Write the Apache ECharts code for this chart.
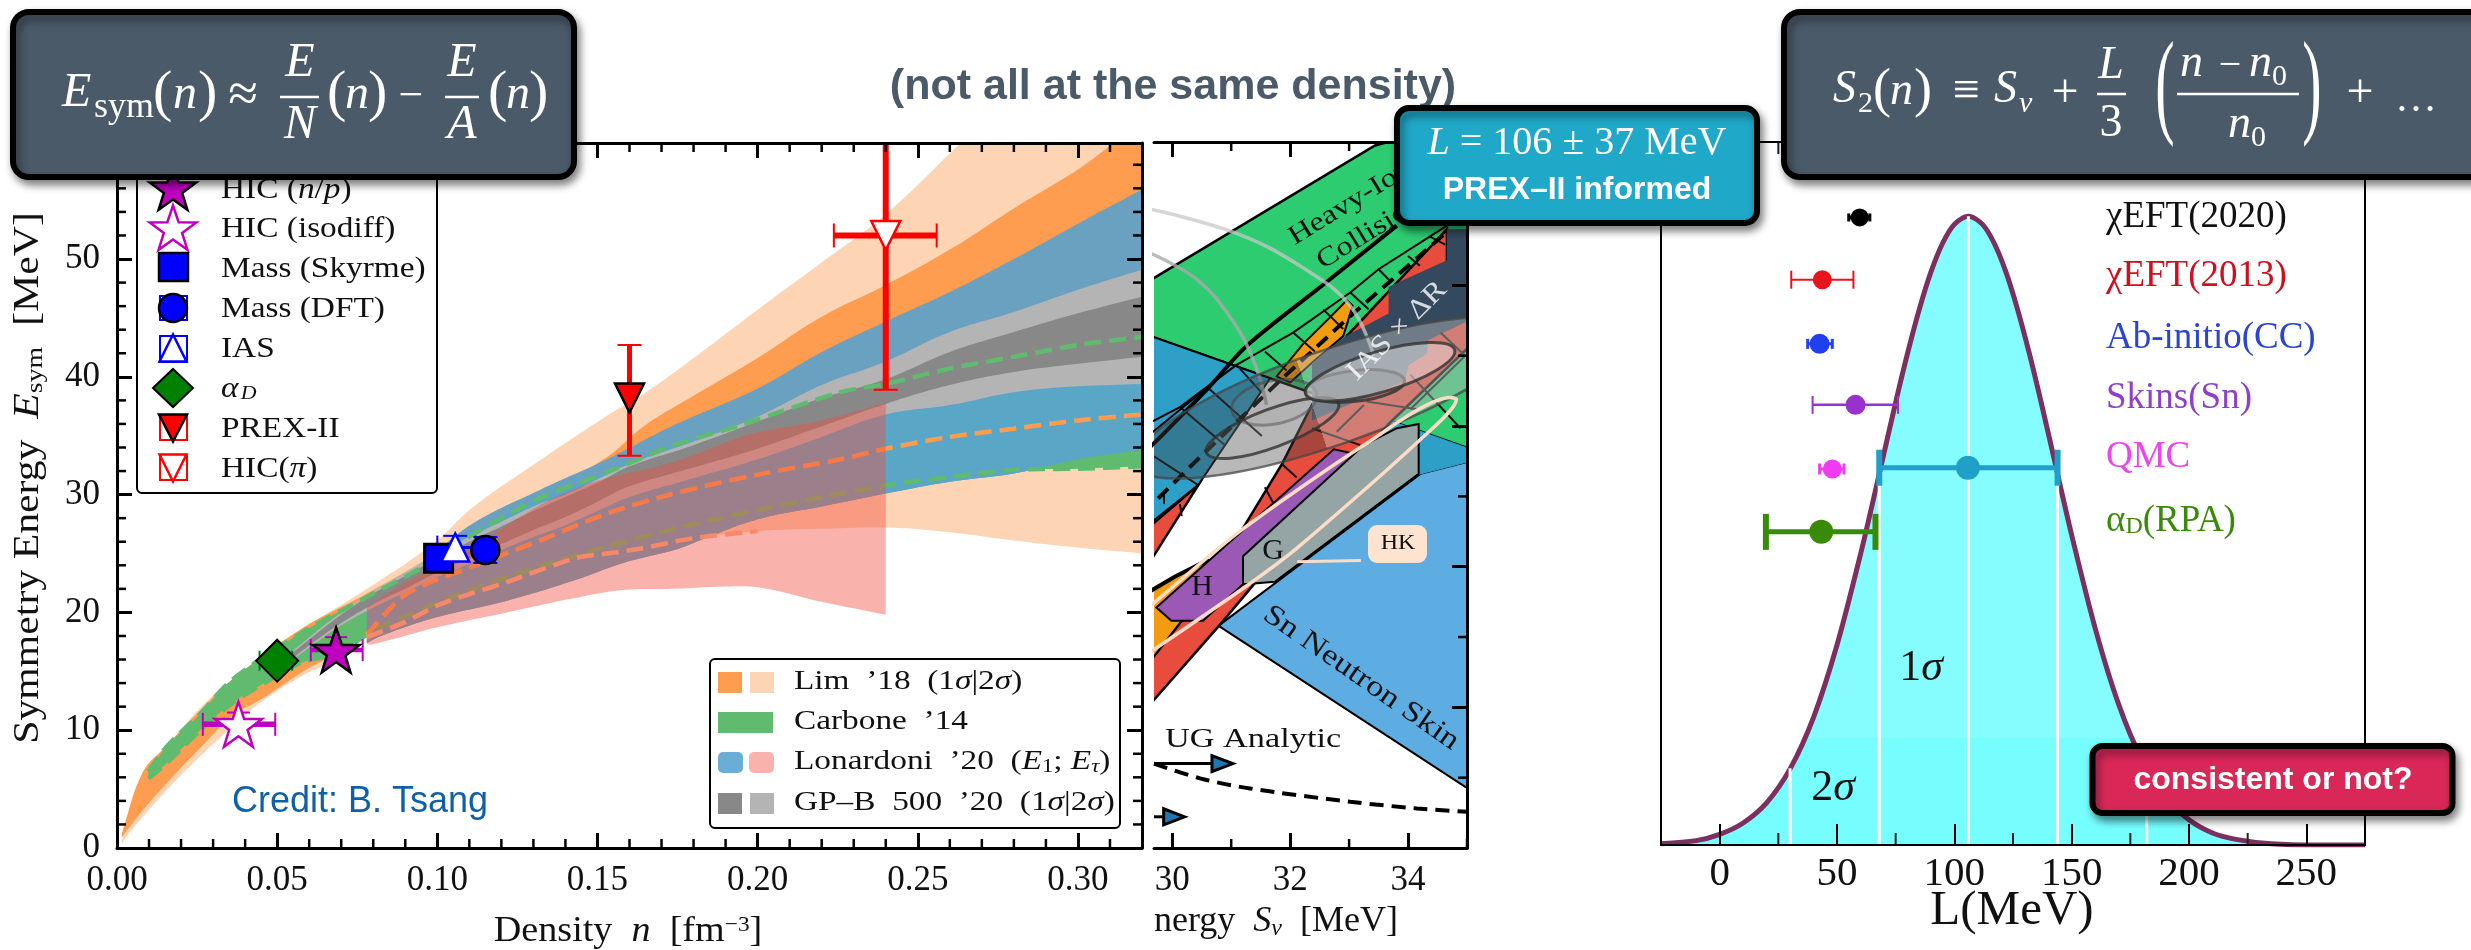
<!DOCTYPE html>
<html><head><meta charset="utf-8"><style>html,body{margin:0;background:#fff}#c{width:2471px;height:950px}</style>
<script src="https://cdn.jsdelivr.net/npm/echarts@6/dist/echarts.min.js"></script></head>
<body><div id="c"></div><script>
// ---------- LEFT PANEL: symmetry energy bands ----------
const lim2UpN=[.0015,.003,.008,.0155,.026,.036,.057,.078,.099,.111,.132,.153,.163,.17,.183,.2,.22,.24,.264,.28,.3,.32];
const lim2UpE=[.5,2.6,5.5,8.5,11.9,14.3,18.4,22,25.9,28.9,32.9,36.7,38.3,39.6,42.2,45.7,49.7,53.8,60,64,69,74];
const lim2LowN=[.0015,.003,.008,.0155,.026,.036,.046,.057,.068,.078,.09,.101,.122,.143,.153,.163,.18,.2,.22,.24,.26,.28,.3,.32];
const lim2LowE=[.3,1,2.6,4.9,7.8,10.3,12.6,14.5,16,17.9,19.2,20.7,22.6,24.6,25,25.4,26.3,26.9,27.1,27.2,26.8,26.1,25.5,25];
const lim1UpN=[.0015,.008,.0155,.026,.036,.057,.078,.099,.111,.132,.153,.163,.17,.18,.2,.22,.24,.26,.28,.3,.311,.32];
const lim1UpE=[1.2,6.4,8.7,11.7,14.3,18.5,21.6,24.9,27.2,29.9,33.2,35.5,36.8,38.4,41.6,45.1,47.8,50.8,54.3,57.6,59.8,61.5];
const lim1LowN=[.0015,.008,.0155,.026,.036,.046,.057,.078,.0905,.111,.132,.153,.174,.2,.2259,.24,.26,.28,.3,.32];
const lim1LowE=[.9,3.2,5.5,8.5,11.2,12.8,14.8,18.1,21.6,23.9,26.1,28.4,30.1,31.7,33,33.9,34.9,35.6,36.3,36.8];
const carbUpN=[.0098,.0155,.026,.036,.0572,.078,.0957,.111,.132,.153,.174,.1947,.2259,.24,.26,.28,.3,.32];
const carbUpE=[6.5,8.6,11.4,14.3,18.2,21.3,23.9,26.6,29.7,31.9,34.2,35.9,38.7,39.4,40.7,41.7,42.7,43.4];
const carbLowN=[.0098,.0155,.026,.036,.046,.0572,.068,.078,.0824,.1113,.132,.153,.1739,.1947,.2259,.24,.26,.28,.3,.32];
const carbLowE=[5.9,7.2,10,12.3,14,15.7,16.5,18.1,18.8,22,23.9,25.6,27.1,28.4,30.1,30.8,31.5,32.1,32.2,32.4];
const lonE1UpN=[.078,.0884,.0989,.1113,.132,.153,.174,.2,.22,.24,.26,.28,.3,.32];
const lonE1UpE=[20.5,22.8,25,27.6,30.4,33,35.9,39,42.1,44.7,47.2,50,53,55.9];
const lonE1LowN=[.078,.0824,.1,.1218,.1426,.158,.174,.18,.2,.22,.24,.26,.28,.3,.32];
const lonE1LowE=[17.4,18,19.6,21,22.7,24.2,25.3,25.9,27.9,29,30.1,31.1,31.8,33,33.8];
const lonE1MidN=[.078,.0957,.111,.132,.153,.174,.1947,.2259,.24,.26,.28,.3,.32];
const lonE1MidE=[20.5,23.3,26.6,29.7,31.9,34.2,35.9,38.7,39.4,40.7,41.7,42.7,43.4];
const lonTauUpN=[.078,.09,.111,.132,.142,.153,.174,.1947,.2,.22,.24];
const lonTauUpE=[20.5,22.5,25.6,29.1,30.4,31.4,32.8,34.9,35.3,36.3,37.8];
const lonTauLowN=[.078,.08,.101,.1218,.1426,.158,.174,.19,.201,.22,.24];
const lonTauLowE=[17.3,17.3,18.8,20,21.2,21.9,22,22.2,22.1,20.9,19.8];
const gpN=[.05,.06,.07,.08,.09,.1,.11,.12,.13,.14,.15,.16,.18,.2,.22,.24,.26,.28,.3,.32];
const gp2Up=[15.6,17.9,20,21.8,23.4,25,26.4,27.7,29,30,31.3,32.6,34.5,36.6,39.3,41.3,43.8,45.5,47.4,49.1];
const gp1Up=[15.5,17.7,19.8,21.6,23.1,24.6,26,27.3,28.6,29.8,31,32.4,34.2,36.2,38.2,39.8,42.1,43.8,45.4,46.8];
const gp1Low=[15.1,17.2,19.1,20.7,22,23.4,24.6,25.8,27,28.1,29.4,30.7,32.3,33.9,35.8,37.7,39.3,40.4,41.1,41.7];
const gp2Low=[15,17,18.9,20.4,21.7,23,24.1,25.3,26.4,27.4,28.6,29.8,31.4,33,34.9,36.8,37.6,38.7,39.2,39.4];
// experimental points
const expNames=['HIC (n/p)','HIC (isodiff)','Mass (Skyrme)','IAS','Mass (DFT)','αD','PREX-II','HIC(π)'];
const expN=[.0684,.0379,.1004,.1056,.115,.05,.16,.24];
const expE=[16.8,10.5,24.6,25.5,25.3,15.9,38.2,52];
const expNLo=[.0605,.0268,.0985,.1,.112,.0445,.16,.2238];
const expNHi=[.0767,.0494,.1022,.112,.118,.0547,.16,.2559];
const expELo=[15.7,9.5,24.6,24.6,24.2,15,33.3,38.9];
const expEHi=[17.9,11.5,25.8,26.5,26.4,16.8,42.7,65];
// axis ticks
const leftXMajor=[0,.05,.1,.15,.2,.25,.3];
const leftXMinor=[.01,.02,.03,.04,.06,.07,.08,.09,.11,.12,.13,.14,.16,.17,.18,.19,.21,.22,.23,.24,.26,.27,.28,.29,.31];
const leftYMajor=[0,10,20,30,40,50];
const leftYMinor=[2,4,6,8,12,14,16,18,22,24,26,28,32,34,36,38,42,44,46,48,52,54,56,58];
// ---------- MIDDLE PANEL: Sv-L constraints (Sv, L pairs) ----------
const midXMajor=[30,32,34];
const midXMinor=[31,33,35];
const midYMajor=[0,20,40,60,80,100];
const midYMinor=[10,30,50,70,90];
const skinPoly=[[30.78,31.63],[34.97,8.7],[35.1,8.2],[35.1,55.1],[34.21,53.2],[30.81,31.77]];
const greenPoly=[[29.6,80.6],[33.44,99.9],[33.7,100.5],[35.1,100.5],[35.1,56.6],[29.6,72.9]];
const tealLeftPoly=[[29.6,72.9],[31.66,66.8],[30.44,51.6],[29.6,46]];
const tealRightPoly=[[33.25,62.1],[35.1,56.6],[35.1,55.1],[34.21,53.2],[32.8,50]];
const redPoly=[[29.6,26.3],[30.13,32],[31.2,45.5],[31.86,54.6],[32.96,72.8],[34.66,88],[34.66,83.6],[35.1,75.5],[35.1,71.8],[33.67,60.3],[30.81,31.77],[29.6,20.2]];
const redWedgePoly=[[30.44,51.6],[29.6,45.6],[29.6,40.4]];
const orangeLowPoly=[[29.6,36.4],[30.05,38.6],[30.61,41],[30.9,37],[30.13,32],[29.6,26.3]];
const orangeSliverPoly=[[31.77,67.06],[32.22,71.7],[32.68,75.5],[32.96,77.9],[33.06,77.1],[32.9,72.8],[32.37,69],[32,66.2]];
const navyPoly=[[32.37,68.95],[32.93,72.75],[33.67,76],[33.67,79.8],[34.66,83.6],[34.66,88],[35.1,88],[35.1,75.3],[34.34,72.2],[34.32,70.3],[34.01,68.7],[33.95,66.5],[32.37,60.8]];
const purplePoly=[[29.73,34.2],[32.74,56.7],[33.02,56.2],[33.25,53.2],[32.11,42.4],[31.2,37.5],[30.52,32.3],[29.985,32.3]];
const gPoly=[[31.2,41.5],[31.2,37.5],[31.74,37.85],[34.18,53.2],[34.18,60.3],[33.81,59.7],[33.25,57.3]];
const thickCurve=[[29.6,56.8],[30.61,65.4],[31.26,71.4],[32.56,80.1],[33.81,88.5]];
const thickLow=[[29.6,36.4],[30.05,38.6],[30.61,41]];
const thinB=[[29.6,60.4],[30.13,62.7],[31.09,68.7],[32.05,73.3],[33.02,79],[33.5,82.3],[34.66,88.5]];
const thinC=[[29.6,58.7],[30.58,65.4]];
const dashedD=[[29.76,49.7],[30.41,55.1],[31.83,66.5],[32.96,75.2],[34.63,87.4]];
const crossBars=[[30.13,62.7,30.89,57.3],[30.61,65.4,31.52,58.6],[31.09,68.7,31.5,64.9],[31.57,70.6,31.94,67.9],[32.05,73.3,32.42,70.6],[32.56,76.6,32.9,73.8],[33.02,79,33.33,76.6],[33.5,82.3,33.7,80.6],[34,84.2,34.2,82.8],[34.38,86.9,34.63,85.8],[29.69,55.7,30.44,51.6],[29.86,50.9,29.86,48.9],[30.13,48.9,30.16,47.2],[31.86,54.6,32.11,52.7],[31.57,51.3,31.71,49.1],[32.37,59.7,33.19,57.3],[34.97,70,34.04,62.4],[34.55,73.3,34.97,70],[34.04,67.3,34.89,59.7],[32.79,59.2,33.25,63],[33.3,63.5,34.15,62.4]];
// ellipses: end points of major axis + minor/major ratio
const ellBig=[29.38,54.46,35.98,73.57,.23];
const ellA=[31.01,62.17,32.45,64.61,.5];
const ellB=[30.58,56.2,32.82,63.25,.27];
const ellC=[32.26,64.9,33.94,66.5,.31];
const ellD=[32.26,64.6,34.79,70.85,.26];
const hkRing=[[29.6,34.2],[31.15,45.07],[33.25,57.28],[34.72,64.07],[34.82,63.8],[34.21,58.1],[32.11,42.6],[31.2,36.9],[29.6,27.7]];
const hkLeader=[[33.2,40.9],[32.12,40.7]];
const arcOuter=[[29.6,90.9],[31.09,87.4],[32.22,82.5],[33.02,77.1],[33.42,70]];
const arcInner=[[29.6,84.7],[30.41,80.9],[30.98,75.5],[31.37,69.5],[31.6,63]];
const ugCurve=[[29.69,12],[30.47,9.9],[31.32,8.46],[33.02,6.57],[34.15,5.63],[35,5.15]];
const ugArrows=[[29.69,31.03,12],[29.69,30.21,4.44]];
// ---------- RIGHT PANEL: L distribution ----------
const distL=[-25,-10,0,10,20,30,40,50,60,68,75,80,85,90,95,100,106,112,117,122,127,132,137,144,150,160,170,180,190,200,210,220,235,255,275];
const distV=[.002,.007,.017,.035,.067,.121,.203,.318,.462,.59,.704,.781,.851,.911,.957,.987,1,.987,.957,.911,.851,.781,.704,.59,.493,.345,.224,.135,.076,.04,.019,.009,.002,0,0];
const sigmaLines=[[30,.122],[68,.59],[106,1],[144,.59],[182,.122]];
const rightMajor=[0,50,100,150,200,250];
const rightMinor=[25,75,125,175,225];
const lNames=['χEFT(2020)','χEFT(2013)','Ab-initio(CC)','Skins(Sn)','QMC','PREX-II','αD(RPA)'];
const lCenter=[59.7,43.75,42.6,57.9,48,105.8,43.3];
const lLow=[55,30.5,37.5,39.6,42.6,68,19.7];
const lHigh=[64,57,48,76,53,144,66.4];
const lRow=[.998,.899,.797,.70,.598,.60,.498];
const lColors=['#000000','#e8131b','#2040ef','#9932cc','#f03cf0','#20a0c8','#3a8a0a'];

const SERIF='Liberation Serif', SANS='Liberation Sans';
const Z=(s,z)=>{s.z=z;return s;};
const zipP=(a,b)=>a.map((v,i)=>[v,b[i]]);
const poly=(pts,fill,xi,yi,extra,smooth)=>({type:'custom',xAxisIndex:xi,yAxisIndex:yi,clip:true,silent:true,data:[pts[0]],
  renderItem:(p,api)=>({type:'polygon',shape:{points:pts.map(q=>api.coord(q)),smooth:smooth||0},style:Object.assign({fill,stroke:null,lineWidth:0},extra||{})})});
const band=(uN,uE,lN,lE,fill)=>{const u=zipP(uN,uE),l=zipP(lN,lE).reverse();
  return poly([u[0],...u,u[u.length-1],l[0],...l,l[l.length-1]],fill,0,0,null,.4);};
const mid=(pts,fill,stroke,lw)=>poly(pts,fill,2,2,{stroke:stroke||null,lineWidth:lw||0});
const pline=(pts,color,w,dash,xi=2,yi=2,sm=false)=>({type:'line',z:3,xAxisIndex:xi,yAxisIndex:yi,data:pts,showSymbol:false,silent:true,clip:true,animation:false,smooth:sm,lineStyle:{color,width:w,type:dash||'solid',cap:'butt'}});
const ell=(e,fill,stroke,lw)=>({type:'custom',z:4,xAxisIndex:2,yAxisIndex:2,clip:true,silent:true,data:[[e[0],e[1]]],
  renderItem:(p,api)=>{const a=api.coord([e[0],e[1]]),b=api.coord([e[2],e[3]]);const dx=b[0]-a[0],dy=b[1]-a[1],r=Math.hypot(dx,dy)/2;
   return {type:'ellipse',x:(a[0]+b[0])/2,y:(a[1]+b[1])/2,rotation:Math.atan2(-dy,dx),shape:{cx:0,cy:0,rx:r,ry:r*e[4]},style:{fill,stroke,lineWidth:lw}};}});
const ticks=(xi,yi,xs,ys,len,w,color,sides)=>({type:'custom',xAxisIndex:xi,yAxisIndex:yi,clip:false,silent:true,z:6,data:[[xs[0]||0,ys[0]||0]],
  renderItem:(p,api)=>{const cs=p.coordSys,ch=[];const st={stroke:color,lineWidth:w};
   xs.forEach(v=>{const x=api.coord([v,ys.length?ys[0]:0])[0];
     if(sides.b)ch.push({type:'line',shape:{x1:x,y1:cs.y+cs.height,x2:x,y2:cs.y+cs.height-len},style:st});
     if(sides.t)ch.push({type:'line',shape:{x1:x,y1:cs.y,x2:x,y2:cs.y+len},style:st});});
   ys.forEach(v=>{const y=api.coord([xs.length?xs[0]:0,v])[1];
     if(sides.l)ch.push({type:'line',shape:{x1:cs.x,y1:y,x2:cs.x+len,y2:y},style:st});
     if(sides.r)ch.push({type:'line',shape:{x1:cs.x+cs.width,y1:y,x2:cs.x+cs.width-len,y2:y},style:st});});
   return {type:'group',children:ch};}});
const expStyle=[[ '#bf00bf',4.5,11,11],['#bf00bf',5.5,11.5,11.5],['#0000ff',2,10,10],['#0000ff',3,12,12],['#0000ff',2,12,12],['#008000',1.5,10,10],['#ff0000',5,0,12],['#ff0000',6,12,12]];
const errLeft={type:'custom',z:5,xAxisIndex:0,yAxisIndex:0,clip:true,silent:true,data:expN.map((n,i)=>[n,expE[i]]),
 renderItem:(p,api)=>{const i=p.dataIndex,[c,w,cx,cy]=expStyle[i];const ch=[];const L=(a,b,lw)=>ch.push({type:'line',shape:{x1:a[0],y1:a[1],x2:b[0],y2:b[1]},style:{stroke:c,lineWidth:lw}});
  const xl=api.coord([expNLo[i],expE[i]]),xh=api.coord([expNHi[i],expE[i]]),yl=api.coord([expN[i],expELo[i]]),yh=api.coord([expN[i],expEHi[i]]);
  if(expNLo[i]!==expNHi[i]){L(xl,xh,w);L([xl[0],xl[1]-cx],[xl[0],xl[1]+cx],2);L([xh[0],xh[1]-cx],[xh[0],xh[1]+cx],2);}
  L(yl,yh,i>=6?w:2);L([yl[0]-cy,yl[1]],[yl[0]+cy,yl[1]],2);L([yh[0]-cy,yh[1]],[yh[0]+cy,yh[1]],2);
  return {type:'group',children:ch};}};
const starPath='path://M50 0L61.8 35.1L98 35.1L68.8 57.2L79.4 91.5L50 70L20.6 91.5L31.2 57.2L2 35.1L38.2 35.1Z';
const expSym=[[starPath,47,'#bf00bf','#000',2.5,0],[starPath,47,'#fff','#bf00bf',2.5,0],['rect',28,'#0000ff','#000',3,0],['triangle',28,'#fff','#0000ff',2.5,0],['circle',28,'#0000ff','#000',2.5,0],['diamond',42,'#008000','#000',2,0],['triangle',29,'#ff0000','#000',2.5,180],['triangle',29,'#fff','#ff0000',2.5,180]];
const expMarkers=expN.map((n,i)=>({type:'scatter',name:expNames[i],z:5,xAxisIndex:0,yAxisIndex:0,silent:true,clip:false,data:[[n,expE[i]]],symbol:expSym[i][0],symbolSize:expSym[i][1],symbolRotate:expSym[i][5],symbolKeepAspect:true,itemStyle:{color:expSym[i][2],borderColor:expSym[i][3],borderWidth:expSym[i][4],opacity:1}}));
const lStyle=[[4,4,9],[2,9,8.5],[3,5,9],[2.5,9,8.5],[3,5.5,9],[5,18,2.5],[5,18,2.5]];
const errRight={type:'custom',xAxisIndex:4,yAxisIndex:4,clip:true,silent:true,z:8,data:lCenter.map((v,i)=>[v,lRow[i]]),
 renderItem:(p,api)=>{const i=p.dataIndex,[w,ch0,cw]=lStyle[i],c=lColors[i];const a=api.coord([lLow[i],lRow[i]]),b=api.coord([lHigh[i],lRow[i]]);const capW=i>=5?6:(i==1||i==3?2:3);
  const mk=x=>({type:'line',shape:{x1:x,y1:a[1]-ch0,x2:x,y2:a[1]+ch0},style:{stroke:c,lineWidth:capW}});
  return {type:'group',children:[{type:'line',shape:{x1:a[0],y1:a[1],x2:b[0],y2:b[1]},style:{stroke:c,lineWidth:w}},mk(a[0]),mk(b[0])]};}};
const lDots={type:'scatter',xAxisIndex:4,yAxisIndex:4,silent:true,z:9,data:lCenter.map((v,i)=>({value:[v,lRow[i]],symbolSize:[18,19,20,20,19,24,24][i],itemStyle:{color:lColors[i],opacity:1}}))};
const sigmaSeries={type:'custom',xAxisIndex:4,yAxisIndex:4,clip:true,silent:true,z:4,data:sigmaLines,
 renderItem:(p,api)=>{const a=api.coord([api.value(0),0]),b=api.coord([api.value(0),api.value(1)]);return {type:'line',shape:{x1:a[0],y1:a[1],x2:b[0],y2:b[1]},style:{stroke:'#fff',lineWidth:3}};}};
const cross={type:'custom',z:3,xAxisIndex:2,yAxisIndex:2,clip:true,silent:true,data:crossBars.map(r=>[r[0],r[1],r[2],r[3]]),
 renderItem:(p,api)=>{const a=api.coord([api.value(0),api.value(1)]),b=api.coord([api.value(2),api.value(3)]);return {type:'line',shape:{x1:a[0],y1:a[1],x2:b[0],y2:b[1]},style:{stroke:'#111',lineWidth:2}};}};
const ugHeads={type:'custom',z:3,xAxisIndex:2,yAxisIndex:2,clip:true,silent:true,data:ugArrows.map(r=>[r[0],r[2]]),
 renderItem:(p,api)=>{const r=ugArrows[p.dataIndex];const a=api.coord([r[0],r[2]]),b=api.coord([r[1],r[2]]);
  return {type:'group',children:[{type:'line',shape:{x1:a[0],y1:a[1],x2:b[0]-22,y2:b[1]},style:{stroke:'#000',lineWidth:3}},
   {type:'polygon',shape:{points:[[b[0],b[1]],[b[0]-21,b[1]-8],[b[0]-21,b[1]+8]]},style:{fill:'#1f78b4',stroke:'#000',lineWidth:3}}]};}};
const ellBigFill=new echarts.graphic.LinearGradient(0,0,1,0,[{offset:0,color:'rgba(60,60,60,.36)'},{offset:.453,color:'rgba(60,60,60,.36)'},{offset:.453,color:'rgba(185,185,185,.45)'},{offset:1,color:'rgba(185,185,185,.45)'}]);

const series=[
 Z(band(lim2UpN,lim2UpE,lim2LowN,lim2LowE,'#fdd5b5'),1),
 Z(band(lim1UpN,lim1UpE,lim1LowN,lim1LowE,'#fe9c50'),1),
 Z(band(carbUpN,carbUpE,carbLowN,carbLowE,'#60bb6f'),1),
 Z(band(lonE1UpN,lonE1UpE,lonE1LowN,lonE1LowE,'#6ba1c0'),1),
 Z(band(lonE1MidN,lonE1MidE,lonE1LowN,lonE1LowE,'#5aa6c6'),1),
 Z(band(gpN,gp2Up,gpN,gp2Low,'#b4b4b4'),1),
 Z(band(gpN,gp1Up,gpN,gp1Low,'#888888'),1),
 pline(zipP(carbUpN,carbUpE),'#60bb6f',4.5,[17,8],0,0,.3),
 pline(zipP(carbLowN,carbLowE),'#60bb6f',4.5,[17,8],0,0,.3),
 pline(zipP(lim1LowN.slice(7),lim1LowE.slice(7)),'#fe9c50',4.5,[17,8],0,0,.3),
 pline(zipP(lim2LowN.slice(9,18),lim2LowE.slice(9,18)),'#fdb48a',4.5,[17,8],0,0,.3),
 Z(band(lonTauUpN,lonTauUpE,lonTauLowN,lonTauLowE,'rgba(241,79,62,.43)'),4),
 errLeft,...expMarkers,
 ticks(0,0,leftXMinor,[],9,2.5,'#000',{b:1,t:1}),
 ticks(0,0,[],leftYMinor,9,2.5,'#000',{l:1,r:1}),
 // middle panel
 Z(mid(skinPoly,'#5dade2','#000',2),1),
 Z(mid(greenPoly,'#2ecc71','#000',2.5),1),
 Z(mid(tealLeftPoly,'#2e9fc6','#000',2),1),
 Z(mid(tealRightPoly,'#2e9fc6','#2e9fc6',1),1),
 Z(mid(redPoly,'#e74c3c','#000',2.5),1),
 Z(mid(redWedgePoly,'#e74c3c','#000',2.5),1),
 Z(mid(orangeLowPoly,'#f39c12','#000',2),1),
 Z(mid(orangeSliverPoly,'#f39c12','#000',2),1),
 Z(mid(navyPoly,'#34495e',null,0),1),
 pline(thinB,'#000',2),pline(thinC,'#000',2),pline(thickCurve,'#000',4,null,2,2,.3),pline(thickLow,'#000',4),pline(dashedD,'#000',4,[14,8]),cross,
 pline(arcOuter,'rgba(200,200,200,.75)',3.5,null,2,2,.4),pline(arcInner,'rgba(170,170,170,.8)',3.5,null,2,2,.4),
 ell(ellBig,ellBigFill,'rgba(70,70,70,.75)',2.5),
 ell(ellA,'rgba(150,150,150,.12)','rgba(70,70,70,.55)',3),
 ell(ellB,'rgba(170,170,170,.2)','rgba(50,50,50,.8)',3),
 ell(ellC,'rgba(90,90,90,.3)','rgba(50,50,50,.8)',3),
 ell(ellD,'rgba(235,235,235,.45)','rgba(50,50,50,.8)',3),
 Z(mid(purplePoly,'#9b59b6','#000',2),5),
 Z(mid(gPoly,'#95a5a6','#000',2),5),
 Z(pline(hkRing,'#fcdcc4',3.5,null,2,2,.25),5),Z(pline(hkLeader,'#fcdcc4',3),5),
 pline(ugCurve,'#000',4,[14,8],2,2,.3),ugHeads,
 ticks(2,2,midXMinor,[],9,2.5,'#000',{b:1,t:1}),
 ticks(2,2,[],midYMinor,9,2.5,'#000',{r:1}),
 // right panel
 {type:'line',xAxisIndex:4,yAxisIndex:4,data:zipP(distL,distV),smooth:.3,showSymbol:false,silent:true,z:3,clip:true,lineStyle:{color:'#7d2f5f',width:5},
  areaStyle:{opacity:1,color:new echarts.graphic.LinearGradient(0,0,0,1,[{offset:0,color:'#85fcfd'},{offset:.83,color:'#85fcfd'},{offset:.83,color:'#76feff'},{offset:1,color:'#76feff'}])}},
 sigmaSeries,errRight,lDots,
 ticks(4,4,rightMinor,[],12,2,'#222',{b:1,t:1}),
];
series.forEach(s=>{s.animation=false});

const xAx=(grid,pos,min,max,major,lab,fmt,lw,len)=>({type:'value',gridIndex:grid,position:pos,min,max,splitLine:{show:false},z:7,
  axisLine:{show:true,onZero:false,lineStyle:{color:'#000',width:lw}},axisTick:{show:true,inside:true,length:len,lineStyle:{color:'#000',width:lw},customValues:major},
  axisLabel:lab?{show:true,customValues:major,formatter:fmt,margin:lab.m,color:'#111',fontFamily:SERIF,fontSize:lab.s,showMinLabel:true,showMaxLabel:true,hideOverlap:false}:{show:false}});
const yAx=(grid,pos,min,max,major,lab,lw,len,line=true)=>({type:'value',gridIndex:grid,position:pos,min,max,splitLine:{show:false},z:7,
  axisLine:{show:line,onZero:false,lineStyle:{color:'#000',width:lw}},axisTick:{show:line&&!!major.length,inside:true,length:len,lineStyle:{color:'#000',width:lw},customValues:major},
  axisLabel:lab?{show:true,customValues:major,margin:lab.m,color:'#111',fontFamily:SERIF,fontSize:lab.s,padding:[6,0,0,0]}:{show:false}});
const midYAxisMax=100.4;
const option={animation:false,backgroundColor:'#fff',
 grid:[{left:117,top:143,width:1025,height:705},{left:1154,top:142,width:313,height:706},{left:1661,top:142,width:704,height:703}],
 xAxis:[xAx(0,'bottom',0,.32,leftXMajor,{s:35,m:15},v=>v.toFixed(2),3,15),xAx(0,'top',0,.32,leftXMajor,null,null,3,15),
  xAx(1,'bottom',29.69,35,midXMajor,{s:35,m:15},v=>String(v),3,15),xAx(1,'top',29.69,35,midXMajor,null,null,3,15),
  xAx(2,'bottom',-25,275,rightMajor,{s:41,m:9},v=>String(v),2,21),xAx(2,'top',-25,275,rightMajor,null,null,2,21)],
 yAxis:[yAx(0,'left',0,59.85,leftYMajor,{s:35,m:17},3,15),yAx(0,'right',0,59.85,leftYMajor,null,3,15),
  yAx(1,'left',0,midYAxisMax,[],null,3,15,false),yAx(1,'right',0,midYAxisMax,midYMajor,null,3,15),
  yAx(2,'left',0,1.118,[],null,2,0),yAx(2,'right',0,1.118,[],null,2,0)],
 series
};
// ----- annotations
const T=(x,y,text,size,o={})=>({type:'text',x,y,z:o.z||60,silent:true,rotation:o.rot||0,scaleX:o.sx||1,style:{text,fontFamily:o.ff||SERIF,fontSize:size,fontStyle:o.st||'normal',fontWeight:o.w||'normal',fill:o.c||'#111',align:o.a||'left',verticalAlign:'middle',rich:o.rich,opacity:o.op==null?1:o.op}});
const R=(x,y,w,h,r,fill,stroke,lw,z,shadow)=>({type:'rect',z,silent:true,shape:{x,y,width:w,height:h,r},style:Object.assign({fill,stroke,lineWidth:lw},shadow?{shadowBlur:9,shadowOffsetX:3,shadowOffsetY:5,shadowColor:'rgba(0,0,0,.45)'}:{})});
const W='#fff', I='italic', SL='#4a5a68';
const fbar=(x1,x2,y,lw=2.5)=>({type:'line',z:60,silent:true,shape:{x1,y1:y,x2,y2:y},style:{stroke:W,lineWidth:lw}});
const serif=(s,st)=>({fontFamily:SERIF,fontSize:s,fontStyle:st||'normal'});
const g=[];
// header boxes
g.push(R(13,12,561,165,16,SL,'#000',6,50,true));
g.push(R(1784,12,760,165,16,SL,'#000',6,50,true));
g.push(R(1397,108,360,115,12,'#20a8c8','#000',6,52,true));
g.push(R(2092.5,746,360,67,10,'#d92858','#000',6,52,true));
g.push(T(1173,87,'(not all at the same density)',43,{ff:SANS,w:'bold',c:SL,a:'center',z:45}));
// left equation
g.push(T(62,93,'E',48,{c:W,st:I}),T(94,108,'sym',36,{c:W}),T(153,95,'(',58,{c:W}),T(173,95,'n',48,{c:W,st:I}),T(198,95,')',58,{c:W}),T(243,97,'≈',54,{c:W,a:'center'}));
g.push(T(300,63,'E',48,{c:W,st:I,a:'center'}),fbar(280,319,97),T(300,125,'N',48,{c:W,st:I,a:'center'}),T(327,95,'(',58,{c:W}),T(345,95,'n',48,{c:W,st:I}),T(368,95,')',58,{c:W}));
g.push(T(411,97,'−',44,{c:W,a:'center'}),T(462,63,'E',48,{c:W,st:I,a:'center'}),fbar(445,479,97),T(462,125,'A',48,{c:W,st:I,a:'center'}),T(488,95,'(',58,{c:W}),T(506,95,'n',48,{c:W,st:I}),T(529,95,')',58,{c:W}));
// right equation
g.push(T(1833,90,'S',46,{c:W,st:I}),T(1858,104,'2',30,{c:W}),T(1873,92,'(',54,{c:W}),T(1890,92,'n',46,{c:W,st:I}),T(1914,92,')',54,{c:W}),T(1966,92,'≡',48,{c:W,a:'center'}),T(1994,90,'S',46,{c:W,st:I}),T(2019,104,'v',30,{c:W,st:I}),T(2065,94,'+',48,{c:W,a:'center'}));
g.push(T(2111,66,'L',46,{c:W,st:I,a:'center'}),fbar(2097,2126,94),T(2111,124,'3',46,{c:W,a:'center'}));
g.push(T(2165,92,'(',116,{c:W,a:'center',sx:.5}),T(2312,92,')',116,{c:W,a:'center',sx:.5}));
g.push(T(2180,64,'n',46,{c:W,st:I}),T(2230,66,'−',40,{c:W,a:'center'}),T(2249,64,'n',46,{c:W,st:I}),T(2272,77,'0',30,{c:W}),fbar(2177,2299,94),T(2228,125,'n',46,{c:W,st:I}),T(2251,138,'0',30,{c:W}));
g.push(T(2360,94,'+',48,{c:W,a:'center'}),T(2416,100,'…',42,{c:W,a:'center'}));
// blue & red boxes text
g.push(T(1577,143,'{i|L} = 106 ± 37 MeV',40,{c:W,a:'center',rich:{i:{...serif(40,I),fill:W}}}));
g.push(T(1577,190,'PREX–II informed',32,{ff:SANS,w:'bold',c:W,a:'center'}));
g.push(T(2273,780,'consistent or not?',32,{ff:SANS,w:'bold',c:W,a:'center'}));
// left legend
g.push(R(137,165,300,328,5,'#fff','#000',2,20));
const legRows=[[190,'HIC ({i|n}/{i|p})'],[229,'HIC (isodiff)'],[269,'Mass (Skyrme)'],[309,'Mass (DFT)'],[349,'IAS'],[389,'{i|α}{s|D}'],[429,'PREX-II'],[469,'HIC({i|π})']];
const legRich={i:{...serif(29,I),fill:'#111'},s:{...serif(19,I),fill:'#111',padding:[10,0,0,2]}};
legRows.forEach(r=>g.push(T(221,r[0],r[1],29,{sx:1.15,rich:legRich,z:25})));
const star=(cx,cy,fill,stroke)=>{const pts=[];for(let k=0;k<10;k++){const rad=k%2?9.6:24.5,a=-Math.PI/2+k*Math.PI/5;pts.push([cx+rad*Math.cos(a),cy+rad*Math.sin(a)+2]);}return {type:'polygon',z:25,silent:true,shape:{points:pts},style:{fill,stroke,lineWidth:2.5}};};
const tri=(cx,cy,w,h,fill,stroke,dn)=>({type:'polygon',z:26,silent:true,shape:{points:dn?[[cx-w/2,cy-h/2],[cx+w/2,cy-h/2],[cx,cy+h/2]]:[[cx-w/2,cy+h/2],[cx+w/2,cy+h/2],[cx,cy-h/2]]},style:{fill,stroke,lineWidth:2.5}});
g.push(star(173,188,'#bf00bf','#000'),star(173,228,'#fff','#bf00bf'));
g.push(R(159,253,29,28,0,'#0000ff','#000',2.5,25));
g.push(R(160,296,27,24,0,'#fff','#0000ff',2,25),{type:'circle',z:26,silent:true,shape:{cx:173,cy:308,r:14},style:{fill:'#0000ff',stroke:'#000',lineWidth:2.5}});
g.push(R(160,336,27,26,0,'#fff','#0000ff',2,25),tri(173,348,27,27,'#fff','#0000ff',false));
g.push({type:'polygon',z:26,silent:true,shape:{points:[[173,369],[193,388],[173,407],[153,388]]},style:{fill:'#008000',stroke:'#000',lineWidth:2}});
g.push(R(160,416,27,24,0,'#fff','#ff0000',2,25),tri(173,428,28,27,'#ff0000','#000',true));
g.push(R(160,456,27,24,0,'#fff','#ff0000',2,25),tri(173,468,27,27,'#fff','#ff0000',true));
// right-bottom legend
g.push(R(710,659,410,169,5,'#fff','#000',2,20));
const sw=(x,y,w,c,r)=>R(x,y,w,21,r||0,c,null,0,25);
g.push(sw(718,672,24,'#fe9c50'),sw(750,672,24,'#fdd5b5'),sw(718,712,55,'#60bb6f'),sw(718,752,25,'#6aadd5',5),sw(749,752,25,'#f9b3ac',5),sw(718,793,24,'#888888'),sw(750,793,24,'#b4b4b4'));
const lr={i:{...serif(28,I),fill:'#111'},s:{...serif(19,'normal'),fill:'#111',padding:[10,0,0,0]},si:{...serif(19,I),fill:'#111',padding:[10,0,0,0]}};
g.push(T(794,682,'Lim  ’18  (1{i|σ}|2{i|σ})',28,{sx:1.19,rich:lr,z:25}),T(794,722,'Carbone  ’14',28,{sx:1.19,rich:lr,z:25}),T(794,762,'Lonardoni  ’20  ({i|E}{s|1}; {i|E}{si|τ})',28,{sx:1.19,rich:lr,z:25}),T(794,803,'GP–B  500  ’20  (1{i|σ}|2{i|σ})',28,{sx:1.19,rich:lr,z:25}));
g.push(T(232,802,'Credit: B. Tsang',36,{ff:SANS,c:'#1060a8',z:25}));
// axis titles
const an={i:{...serif(36,I),fill:'#111'},s:{...serif(24,'normal'),fill:'#111',padding:[14,0,0,0]},si:{...serif(24,I),fill:'#111',padding:[14,0,0,0]},u:{...serif(22,'normal'),fill:'#111',padding:[0,0,14,0]}};
g.push(T(29,478,'Symmetry Energy  {i|E}{s|sym}  [MeV]',36,{a:'center',rot:Math.PI/2,sx:1.16,rich:an}));
g.push(T(628,932,'Density  {i|n}  [fm{u|−3}]',36,{a:'center',sx:1.06,rich:an}));
g.push(T(1154,922,'nergy  {i|S}{si|v}  [MeV]',36,{sx:1,rich:an}));
g.push(T(2012,911,'L(MeV)',49,{a:'center'}));
// middle panel labels
g.push(T(1350,203,'Heavy-Ion',27,{a:'center',rot:.55,sx:1.2,z:30}),T(1375,229,'Collisions',27,{a:'center',rot:.55,sx:1.2,z:30}));
g.push(T(1361,678,'Sn Neutron Skin',29,{a:'center',rot:-.608,sx:1.2,z:30}));
g.push(T(1397,331,'IAS × ΔR',28,{a:'center',rot:.785,sx:1.15,c:'#fff',z:30,op:.8}));
g.push(T(1202,587,'H',30,{a:'center',z:30}),T(1273,551,'G',30,{a:'center',z:30}));
g.push(R(1368,525,59,38,9,'#fde3d0',null,0,30),T(1398,544,'HK',20,{a:'center',sx:1.2,z:31}));
g.push(T(1165,740,'UG Analytic',27,{sx:1.27,z:30}));
// right panel labels
const rr={s:{...serif(24,'normal'),fill:'#3a8a0a',padding:[12,0,0,0]},a:{...serif(37,'normal'),fill:'#3a8a0a'}};
[[217,'χEFT(2020)','#111'],[276.5,'χEFT(2013)','#cc1020'],[338,'Ab-initio(CC)','#2a45d0'],[398.5,'Skins(Sn)','#9040c8'],[457,'QMC','#ee44ee']].forEach(r=>g.push(T(2106,r[0],r[1],37,{c:r[2]})));
g.push(T(2106,521,'{a|α}{s|D}{a|(RPA)}',37,{c:'#3a8a0a',rich:rr}));
g.push(T(1921,668,'1{i|σ}',44,{a:'center',rich:{i:{...serif(44,I),fill:'#111'}}}),T(1833,788,'2{i|σ}',44,{a:'center',rich:{i:{...serif(44,I),fill:'#111'}}}));
option.graphic={elements:g};
const ch=echarts.init(document.getElementById('c'),null,{renderer:'canvas',width:2471,height:950});
ch.setOption(option);
</script></body></html>
